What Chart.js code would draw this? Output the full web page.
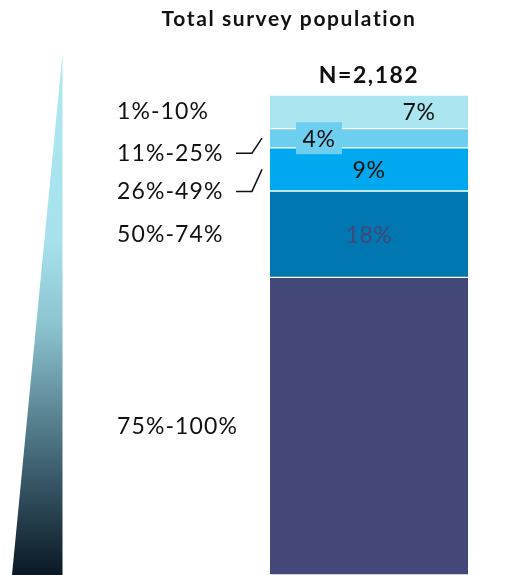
<!DOCTYPE html>
<html>
<head>
<meta charset="utf-8">
<script src="https://cdn.jsdelivr.net/npm/chart.js@4.4.1/dist/chart.umd.min.js"></script>
<style>
  html, body { margin: 0; padding: 0; background: #fff; overflow: hidden; }
  #wrap { position: relative; width: 506px; height: 580px; }
</style>
</head>
<body>
<div id="wrap"><canvas id="c" width="506" height="580"></canvas></div>
<script>
// Share of respondents by proportion band (bottom of the stack first)
const bands = ['75%-100%', '50%-74%', '26%-49%', '11%-25%', '1%-10%'];
const shares = [62, 18, 9, 4, 7];
const showValue = [false, true, true, true, true];
const barColors = ['#434878', '#0077b0', '#00a9ef', '#6dcff0', '#abe5f0'];
const valueColors = ['#ffffff', '#434878', '#111111', '#111111', '#111111'];
const chartTitle = 'Total survey population';
const sampleLabel = 'N=2,182';

const FONT = 'Lato, "DejaVu Sans", sans-serif';

const datasets = bands.map((b, i) => ({
  label: b,
  data: [shares[i]],
  backgroundColor: barColors[i],
  borderColor: '#ffffff',
  borderWidth: { top: 1, bottom: 1, left: 0, right: 0 },
  borderSkipped: false,
  barPercentage: 1,
  categoryPercentage: 1
}));

// Per-band placement tweaks for the side labels / value labels
const labelShift = { '11%-25%': 15, '26%-49%': 22 };
const valueDx = { '1%-10%': 50, '11%-25%': -50 };

const annotate = {
  id: 'annotate',
  afterDatasetsDraw(chart) {
    const ctx = chart.ctx;
    const area = chart.chartArea;

    // Gradient wedge on the far left
    const gTop = 53, gBot = 575;
    const grad = ctx.createLinearGradient(0, gTop, 0, gBot);
    grad.addColorStop(0, '#b0e8f2');
    grad.addColorStop(0.36, '#a6e1ec');
    grad.addColorStop(0.52, '#8cc4d0');
    grad.addColorStop(0.64, '#6a98a6');
    grad.addColorStop(0.8, '#3c5e6e');
    grad.addColorStop(1, '#0a1824');
    ctx.save();
    ctx.fillStyle = grad;
    ctx.beginPath();
    ctx.moveTo(62.5, gTop);
    ctx.lineTo(62.5, gBot + 5);
    ctx.lineTo(11.5, gBot + 5);
    ctx.closePath();
    ctx.fill();
    ctx.restore();

    // Titles
    ctx.save();
    ctx.fillStyle = '#111';
    ctx.textAlign = 'center';
    ctx.textBaseline = 'middle';
    ctx.font = 'bold 21px ' + FONT;
    ctx.letterSpacing = '1.6px';
    ctx.fillText(chartTitle, 289, 19);
    const midX = (area.left + area.right) / 2;
    ctx.font = 'bold 23px ' + FONT;
    ctx.letterSpacing = '1.5px';
    ctx.fillText(sampleLabel, midX, 76);
    ctx.restore();

    chart.data.datasets.forEach((ds, i) => {
      const bar = chart.getDatasetMeta(i).data[0];
      const yc = (bar.y + bar.base) / 2;
      const name = ds.label;

      // Band name on the left
      ctx.save();
      ctx.fillStyle = '#111';
      ctx.textAlign = 'left';
      ctx.textBaseline = 'middle';
      ctx.font = '23px ' + FONT;
      ctx.letterSpacing = '1.1px';
      const shift = labelShift[name] || 0;
      const ly = Math.min(yc, 428) + shift;
      ctx.fillText(name, 117, ly);
      if (shift) {
        ctx.strokeStyle = '#111';
        ctx.lineWidth = 1.5;
        ctx.beginPath();
        ctx.moveTo(236, ly);
        ctx.lineTo(252, ly);
        ctx.lineTo(262, yc);
        ctx.stroke();
      }
      ctx.restore();

      // Value label on the bar
      if (!showValue[i]) return;
      const txt = shares[i] + '%';
      const vx = bar.x + (valueDx[name] || 0);
      ctx.save();
      ctx.font = '23px ' + FONT;
      ctx.letterSpacing = '0.5px';
      ctx.textAlign = 'center';
      ctx.textBaseline = 'middle';
      if (name === '11%-25%') {
        ctx.fillStyle = barColors[i];
        ctx.fillRect(vx - 23, yc - 16, 46, 32);
      }
      ctx.fillStyle = valueColors[i];
      ctx.fillText(txt, vx, yc + 1);
      ctx.restore();
    });
  }
};

new Chart(document.getElementById('c'), {
  type: 'bar',
  data: { labels: [''], datasets },
  options: {
    responsive: false,
    animation: false,
    layout: { padding: { left: 270, right: 38, top: 95, bottom: 5 } },
    plugins: { legend: { display: false }, tooltip: { enabled: false }, title: { display: false } },
    scales: {
      x: { stacked: true, display: false },
      y: { stacked: true, display: false, min: 0, max: 100 }
    }
  },
  plugins: [annotate]
});
</script>
</body>
</html>
